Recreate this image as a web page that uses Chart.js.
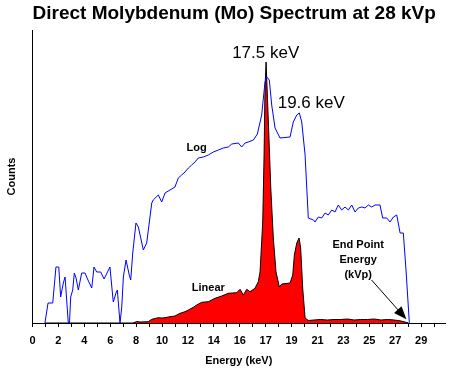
<!DOCTYPE html>
<html>
<head>
<script src="https://cdn.jsdelivr.net/npm/chart.js"></script>
<style>
  body { margin: 0; background: #fff; }
</style>
</head>
<body>
<canvas id="myChart" width="454" height="371"></canvas>
<script>
// x tick labels, one for every second tick (as printed on the original)
const tickLabels = ['0','2','4','6','8','10','12','14','16','17','19','21','23','25','27','29'];

// "Log" trace (blue), energy in keV and relative counts
const logEnergy = [0.93,1.16,1.51,1.75,1.96,2.10,2.30,2.43,2.67,2.76,2.85,3.00,3.12,3.25,3.42,3.67,3.92,4.14,4.42,4.59,
  4.79,5.09,5.34,5.78,5.99,6.03,6.23,6.33,6.42,6.53,6.66,6.78,6.98,7.22,7.33,7.48,7.72,7.90,8.27,8.52,
  8.90,9.01,9.39,9.64,9.89,10.26,10.63,10.88,11.13,11.38,11.63,11.88,12.13,12.37,12.75,13.12,13.49,13.87,14.24,14.61,
  14.87,15.36,15.61,15.86,16.10,16.48,16.78,17.10,17.35,17.48,17.67,17.85,18.10,18.47,19.22,19.46,19.72,19.91,20.09,20.34,
  20.58,20.96,21.08,21.33,21.58,21.83,22.07,22.33,22.57,22.82,23.07,23.32,23.57,23.82,24.07,24.31,24.57,24.81,25.06,25.31,
  25.56,25.93,26.13,26.43,26.68,26.93,27.18,27.43,27.67,27.87,28.12];
const logCounts = [0,20,20,56,56,26,40,46,0,0,26,33,50,45,33,50,50,43,35,56,
  51,51,44,56,26,21,30,33,18,0,16,46,63,48,43,70,100,96,73,80,
  120,123,128,121,130,133,136,145,148,151,155,158,161,165,166,168,171,173,175,176,
  179,180,176,180,181,183,189,208,241,246,243,218,195,185,186,201,208,210,201,168,
  105,103,101,106,105,110,108,113,111,118,113,116,113,118,111,115,116,115,118,116,
  118,118,105,105,101,106,108,90,90,53,0];

// "Linear" trace (red area)
const linEnergy = [0.93,7.50,7.78,8.02,8.64,8.90,9.39,9.64,9.89,10.26,10.63,11.01,11.38,11.63,12.00,12.25,12.63,13.12,13.62,14.12,
  14.61,15.24,15.49,15.73,15.99,16.23,16.60,16.85,16.98,17.18,17.28,17.35,17.43,17.60,17.78,17.97,18.17,18.42,18.60,19.22,
  19.42,19.54,19.72,19.89,20.01,20.16,20.34,20.58,21.0,21.5,22.0,22.5,23.0,23.5,24.0,24.5,25.0,25.5,26.0,26.5,
  27.0,27.5,27.8,28.05];
const linCounts = [0,0,1.5,1,1.3,3.7,5.3,5,5.3,6.3,7,9.7,11.3,13,15.7,18,20.7,21.3,24.7,27,
  29.7,30.3,33.7,28,33.7,31.3,34.7,41.3,51,101,168,235,261,201,135,85,51,36,39,40,
  48,68,80,85,75,35,5,2.5,3,3.5,3,3.5,3.5,4,3,3.5,3.5,4,3,3.5,
  3,2,1,0];

// text placed on the plot (keV, counts)
const notes = [
  {text: '17.5 keV', x: 17.4, y: 270, font: '17px "Liberation Sans", Arial, sans-serif'},
  {text: '19.6 keV', x: 20.8, y: 220, font: '17px "Liberation Sans", Arial, sans-serif'},
  {text: 'Log', x: 12.25, y: 175, font: 'bold 11px "Liberation Sans", Arial, sans-serif'},
  {text: 'Linear', x: 13.12, y: 35, font: 'bold 11px "Liberation Sans", Arial, sans-serif'},
  {text: 'End Point', x: 24.3, y: 78, font: 'bold 11px "Liberation Sans", Arial, sans-serif'},
  {text: 'Energy', x: 24.3, y: 63, font: 'bold 11px "Liberation Sans", Arial, sans-serif'},
  {text: '(kVp)', x: 24.3, y: 48, font: 'bold 11px "Liberation Sans", Arial, sans-serif'}
];
const arrowFrom = {x: 25.3, y: 43};
const arrowTo = {x: 27.9, y: 3.7};

const tickStep = 29 / 30;

const notesPlugin = {
  id: 'notes',
  afterDatasetsDraw(chart) {
    const {ctx, scales: {x, y}} = chart;
    ctx.save();
    ctx.fillStyle = '#000';
    ctx.textAlign = 'center';
    ctx.textBaseline = 'middle';
    notes.forEach(n => {
      ctx.font = n.font;
      ctx.fillText(n.text, x.getPixelForValue(n.x), y.getPixelForValue(n.y));
    });
    // arrow to end point
    const x1 = x.getPixelForValue(arrowFrom.x), y1 = y.getPixelForValue(arrowFrom.y);
    const x2 = x.getPixelForValue(arrowTo.x), y2 = y.getPixelForValue(arrowTo.y);
    const ang = Math.atan2(y2 - y1, x2 - x1);
    ctx.strokeStyle = '#000';
    ctx.lineWidth = 1;
    ctx.beginPath();
    ctx.moveTo(x1, y1);
    ctx.lineTo(x2 - 10 * Math.cos(ang), y2 - 10 * Math.sin(ang));
    ctx.stroke();
    ctx.beginPath();
    ctx.moveTo(x2, y2);
    ctx.lineTo(x2 - 13 * Math.cos(ang) + 5 * Math.sin(ang), y2 - 13 * Math.sin(ang) - 5 * Math.cos(ang));
    ctx.lineTo(x2 - 13 * Math.cos(ang) - 5 * Math.sin(ang), y2 - 13 * Math.sin(ang) + 5 * Math.cos(ang));
    ctx.closePath();
    ctx.fill();
    ctx.restore();
  }
};

const ctx = document.getElementById('myChart');
new Chart(ctx, {
  type: 'line',
  data: {
    datasets: [
      {
        label: 'Log',
        data: logEnergy.map((e, i) => ({x: e, y: logCounts[i]})),
        borderColor: 'rgb(0,0,255)',
        borderWidth: 1,
        pointRadius: 0,
        fill: false,
        tension: 0
      },
      {
        label: 'Linear',
        data: linEnergy.map((e, i) => ({x: e, y: linCounts[i]})),
        borderColor: '#000',
        backgroundColor: 'rgb(255,0,0)',
        borderWidth: 1,
        pointRadius: 0,
        fill: 'origin',
        tension: 0
      }
    ]
  },
  options: {
    responsive: false,
    animation: false,
    layout: {padding: {left: 23.4, right: 9, top: 0, bottom: 0}},
    plugins: {
      legend: {display: false},
      tooltip: {enabled: false},
      title: {
        display: true,
        text: 'Direct Molybdenum (Mo) Spectrum at 28 kVp',
        color: '#000',
        font: {family: '"Liberation Sans", Arial, sans-serif', size: 19, weight: 'bold'},
        padding: {top: 2, bottom: 5.2}
      }
    },
    scales: {
      x: {
        type: 'linear',
        min: 0,
        max: 30.78,
        afterBuildTicks: (scale) => {
          const t = [];
          for (let k = 0; k <= 31; k++) t.push({value: k * tickStep});
          scale.ticks = t;
        },
        afterFit: (scale) => { scale.height = 48; },
        grid: {display: true, drawOnChartArea: false, drawTicks: true, tickLength: 4, color: '#000'},
        border: {display: true, color: '#000', width: 1},
        ticks: {
          autoSkip: false,
          maxRotation: 0,
          padding: 7,
          color: '#000',
          font: {family: '"Liberation Sans", Arial, sans-serif', size: 11, weight: 'bold'},
          callback: (v, i) => (i % 2 === 0 ? tickLabels[i / 2] : '')
        },
        title: {
          display: true,
          text: 'Energy (keV)',
          color: '#000',
          font: {family: '"Liberation Sans", Arial, sans-serif', size: 11, weight: 'bold'},
          padding: {top: 0, bottom: 3.4}
        }
      },
      y: {
        min: 0,
        max: 293,
        afterFit: (scale) => { scale.width = 9.1; },
        grid: {display: false},
        border: {display: true, color: '#000', width: 1},
        ticks: {display: false},
        title: {
          display: true,
          text: 'Counts',
          color: '#000',
          font: {family: '"Liberation Sans", Arial, sans-serif', size: 11, weight: 'bold'},
          padding: {top: -18, bottom: 0}
        }
      }
    }
  },
  plugins: [notesPlugin]
});
</script>
</body>
</html>
